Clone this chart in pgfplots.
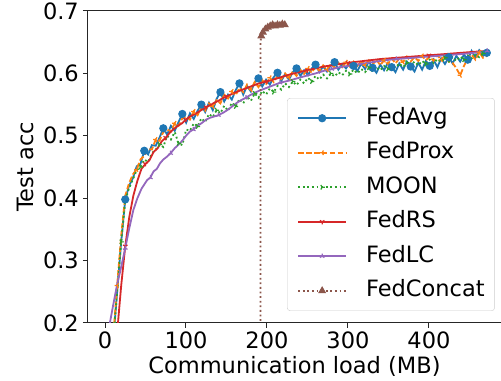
\documentclass[border=0pt]{standalone}
\usepackage{fontspec}
\setmainfont{DejaVu Sans}
\usepackage{pgfplots}
\pgfplotsset{compat=1.18}
\usetikzlibrary{calc,plotmarks}
\definecolor{c0}{HTML}{1F77B4}
\definecolor{c1}{HTML}{FF7F0E}
\definecolor{c2}{HTML}{2CA02C}
\definecolor{c3}{HTML}{D62728}
\definecolor{c4}{HTML}{9467BD}
\definecolor{c5}{HTML}{8C564B}
\newcommand{\bigf}{\fontsize{22.5bp}{27bp}\selectfont}
\begin{document}
\bigf
\begin{tikzpicture}
\begin{axis}[
  name=ax,
  scale only axis, width=413bp, height=312bp,
  xmin=-21, xmax=489, ymin=0.2, ymax=0.7,
  axis x line*=box, axis y line*=left,
  xtick={0,100,200,300,400}, ytick={0.2,0.3,0.4,0.5,0.6,0.7},
  xtick pos=bottom, ytick pos=left,
  tick align=outside, major tick length=5bp,
  tick style={black!85, line width=1bp},
  axis line style={black!85, line width=1bp},
  /pgf/number format/assume math mode=true,
  ticklabel style={font=\bigf},
  yticklabel style={/pgf/number format/fixed,/pgf/number format/precision=1,/pgf/number format/fixed zerofill, anchor=east, inner sep=0pt, xshift=-4bp},
  xticklabel style={anchor=north, inner sep=0pt, yshift=-4bp},
  every axis x label/.style={at={(axis description cs:0.5,-0.1603)}, anchor=base, font=\bigf},
  every axis y label/.style={at={(axis description cs:-0.1308,0.5)}, anchor=base, rotate=90, font=\bigf},
  xlabel={Communication load (MB)}, ylabel={Test acc},
  legend cell align=left,
  legend image code/.code={\draw[mark repeat=2,mark phase=2,#1] plot coordinates {(0bp,0bp) (24bp,0bp) (48bp,0bp)};},
  legend image post style={line width=1.8bp},
  legend style={at={(0.985,0.721)}, anchor=north east, draw=black!20, rounded corners=3bp, fill=white, font=\bigf,
     inner xsep=10bp, inner ysep=9bp, row sep=12.5bp, column sep=19bp,
     nodes={inner sep=0bp, text height=17bp, text depth=5bp}},
  every axis plot/.append style={line width=1.8bp},
]
% FedAvg
\addplot[c0, mark=*, mark size=3.6bp, mark repeat=5, mark phase=3, mark options={solid, fill=c0, draw=c0, line width=1bp}] coordinates {
(10,0.17)(15,0.25)(20,0.33)
(25.0,0.398)(29.7,0.420)(34.4,0.432)(39.1,0.451)(43.8,0.455)(48.5,0.476)(53.2,0.470)(57.9,0.485)(62.6,0.484)(67.3,0.497)
(72.0,0.512)(76.7,0.502)(81.4,0.516)(86.1,0.508)(90.8,0.522)(95.5,0.535)(100.2,0.521)(104.9,0.536)(109.6,0.527)(114.3,0.540)
(119.0,0.550)(123.7,0.538)(128.4,0.553)(133.1,0.541)(137.8,0.559)(142.5,0.570)(147.2,0.555)(151.9,0.566)(156.6,0.558)(161.3,0.573)
(166.0,0.584)(170.7,0.566)(175.4,0.580)(180.1,0.571)(184.8,0.585)(189.5,0.592)(194.2,0.579)(198.9,0.590)(203.6,0.582)(208.3,0.594)
(213.0,0.601)(217.7,0.588)(222.4,0.599)(227.1,0.590)(231.8,0.602)(236.5,0.608)(241.2,0.596)(245.9,0.605)(250.6,0.597)(255.3,0.608)
(260.0,0.614)(264.7,0.602)(269.4,0.611)(274.1,0.603)(278.8,0.613)(283.5,0.618)(288.2,0.606)(292.9,0.615)(297.6,0.608)(302.3,0.617)
(307.0,0.612)(311.7,0.604)(316.4,0.616)(321.1,0.607)(325.8,0.619)(330.5,0.609)(335.2,0.601)(339.9,0.614)(344.6,0.605)(349.3,0.617)
(354.0,0.610)(358.7,0.602)(363.4,0.616)(368.1,0.606)(372.8,0.619)(377.5,0.611)(382.2,0.603)(386.9,0.617)(391.6,0.606)(396.3,0.620)
(401.0,0.612)(405.7,0.622)(410.4,0.610)(415.1,0.624)(419.8,0.615)(424.5,0.626)(429.2,0.616)(433.9,0.628)(438.6,0.619)(443.3,0.630)
(448.0,0.622)(452.7,0.636)(457.4,0.625)(462.1,0.637)(466.8,0.628)(471.5,0.633)
};
\addlegendentry{FedAvg}
% FedProx
\addplot[c1, dash pattern=on 5.5bp off 2.4bp, mark=Mercedes star, mark size=2.6bp, mark repeat=5, mark phase=1, mark options={solid, rotate=90, line width=1.2bp}] coordinates {
(10,0.175)(15,0.26)(20,0.34)
(25.0,0.404)(29.7,0.424)(34.4,0.438)(39.1,0.446)(43.8,0.462)(48.5,0.468)(53.2,0.479)(57.9,0.478)(62.6,0.494)(67.3,0.492)
(72.0,0.506)(76.7,0.510)(81.4,0.507)(86.1,0.520)(90.8,0.516)(95.5,0.528)(100.2,0.531)(104.9,0.526)(109.6,0.539)(114.3,0.533)
(119.0,0.546)(123.7,0.540)(128.4,0.552)(133.1,0.547)(137.8,0.557)(142.5,0.552)(147.2,0.566)(151.9,0.560)(156.6,0.571)(161.3,0.565)
(166.0,0.577)(170.7,0.570)(175.4,0.582)(180.1,0.574)(184.8,0.586)(189.5,0.578)(194.2,0.589)(198.9,0.583)(203.6,0.593)(208.3,0.586)
(213.0,0.596)(217.7,0.591)(222.4,0.600)(227.1,0.593)(231.8,0.603)(236.5,0.596)(241.2,0.606)(245.9,0.599)(250.6,0.608)(255.3,0.601)
(260.0,0.611)(264.7,0.604)(269.4,0.613)(274.1,0.606)(278.8,0.615)(283.5,0.609)(288.2,0.617)(292.9,0.610)(297.6,0.618)(302.3,0.611)
(307.0,0.619)(311.7,0.612)(316.4,0.620)(321.1,0.613)(325.8,0.621)(330.5,0.614)(335.2,0.622)(339.9,0.613)(344.6,0.621)(349.3,0.615)
(354.0,0.624)(358.7,0.616)(363.4,0.624)(368.1,0.618)(372.8,0.627)(377.5,0.619)(382.2,0.626)(386.9,0.620)(391.6,0.628)(396.3,0.621)
(401.0,0.627)(405.7,0.620)(410.4,0.629)(415.1,0.622)(419.8,0.628)(424.5,0.619)(429.2,0.617)(433.9,0.608)(438.6,0.597)(443.3,0.612)
(448.0,0.624)(452.7,0.630)(457.4,0.622)(462.1,0.634)(466.8,0.625)(471.5,0.628)
};
\addlegendentry{FedProx}
% MOON
\addplot[c2, dash pattern=on 1.8bp off 2.8bp, mark=Mercedes star, mark size=2.6bp, mark repeat=5, mark phase=2, mark options={solid, rotate=-90, line width=1.2bp}] coordinates {
(10,0.17)(15,0.25)(20,0.33)
(25.0,0.396)(29.7,0.416)(34.4,0.430)(39.1,0.445)(43.8,0.450)(48.5,0.462)(53.2,0.458)(57.9,0.472)(62.6,0.478)(67.3,0.486)
(72.0,0.482)(76.7,0.500)(81.4,0.494)(86.1,0.506)(90.8,0.488)(95.5,0.485)(100.2,0.510)(104.9,0.508)(109.6,0.520)(114.3,0.515)
(119.0,0.528)(123.7,0.522)(128.4,0.535)(133.1,0.530)(137.8,0.541)(142.5,0.536)(147.2,0.548)(151.9,0.540)(156.6,0.553)(161.3,0.547)
(166.0,0.559)(170.7,0.552)(175.4,0.563)(180.1,0.556)(184.8,0.568)(189.5,0.561)(194.2,0.572)(198.9,0.566)(203.6,0.576)(208.3,0.570)
(213.0,0.580)(217.7,0.574)(222.4,0.584)(227.1,0.578)(231.8,0.587)(236.5,0.581)(241.2,0.590)(245.9,0.584)(250.6,0.593)(255.3,0.587)
(260.0,0.596)(264.7,0.590)(269.4,0.598)(274.1,0.592)(278.8,0.600)(283.5,0.595)(288.2,0.602)(292.9,0.597)(297.6,0.604)(302.3,0.599)
(307.0,0.606)(311.7,0.600)(316.4,0.607)(321.1,0.602)(325.8,0.609)(330.5,0.603)(335.2,0.610)(339.9,0.605)(344.6,0.612)(349.3,0.607)
(354.0,0.614)(358.7,0.609)(363.4,0.616)(368.1,0.610)(372.8,0.617)(377.5,0.612)(382.2,0.619)(386.9,0.613)(391.6,0.620)(396.3,0.615)
(401.0,0.622)(405.7,0.616)(410.4,0.623)(415.1,0.618)(419.8,0.625)(424.5,0.619)(429.2,0.626)(433.9,0.620)(438.6,0.627)(443.3,0.622)
(448.0,0.629)(452.7,0.624)(457.4,0.630)(462.1,0.626)(466.8,0.632)(471.5,0.630)
};
\addlegendentry{MOON}
% FedRS
\addplot[c3, mark=Mercedes star flipped, mark size=2.6bp, mark repeat=5, mark phase=3, mark options={solid, line width=1.2bp}] coordinates {
(14,0.17)(16,0.2)(20,0.26)(25,0.323)(30,0.370)(35,0.404)(40,0.428)(45,0.447)(50,0.455)(55,0.461)(60,0.474)(65,0.480)
(70,0.491)(75,0.497)(80,0.505)(85,0.511)(90,0.516)(95,0.520)(100,0.526)(105,0.531)(110,0.534)(115,0.538)(120,0.542)(125,0.546)
(130,0.549)(135,0.553)(140,0.556)(145,0.560)(150,0.563)(160,0.569)(170,0.574)(180,0.579)(190,0.584)(200,0.587)(210,0.591)
(220,0.595)(230,0.599)(240,0.602)(250,0.605)(260,0.608)(270,0.611)(280,0.613)(290,0.615)(300,0.617)(320,0.620)(340,0.623)
(360,0.625)(380,0.627)(400,0.629)(420,0.631)(440,0.633)(460,0.635)(472,0.636)
};
\addlegendentry{FedRS}
% FedLC
\addplot[c4, mark=Mercedes star, mark size=2.6bp, mark repeat=6, mark phase=5, mark options={solid, line width=1.2bp}] coordinates {
(3,0.17)(6,0.2)(10,0.228)(15,0.262)(20,0.29)(25,0.32)(30,0.352)(35,0.381)(40,0.400)(45,0.415)(52,0.429)(56,0.433)(60,0.443)
(64,0.447)(68,0.456)(72,0.462)(76,0.466)(81,0.472)(86,0.480)(91,0.486)(96,0.493)(100,0.500)(105,0.507)(109,0.510)(113,0.515)
(119,0.520)(125,0.526)(130,0.529)(135,0.531)(140,0.533)(146,0.537)(152,0.542)(158,0.548)(163,0.553)(168,0.557)(174,0.561)
(179,0.565)(185,0.569)(190,0.572)(200,0.577)(208,0.581)(216,0.585)(226,0.588)(237,0.592)(248,0.596)(260,0.600)(270,0.604)
(280,0.607)(290,0.610)(300,0.612)(315,0.615)(330,0.618)(345,0.621)(360,0.623)(380,0.625)(400,0.627)(420,0.629)(440,0.631)
(456,0.633)(472,0.636)
};
\addlegendentry{FedLC}
% FedConcat
\addplot[c5, dash pattern=on 1.8bp off 2.8bp, mark=triangle*, mark size=3.6bp, mark repeat=1, mark phase=2, mark options={solid, fill=c5, draw=c5, line width=1bp}] coordinates {
(192,0.1)(192,0.65)(193,0.66)(195,0.666)(198,0.671)(201,0.674)(204,0.676)(207,0.678)(210,0.676)(213,0.678)(216,0.677)(219,0.679)(222,0.678)
};
\addlegendentry{FedConcat}
\end{axis}
\pgfresetboundingbox
\path[use as bounding box] ($(ax.south west)+(-88bp,-58bp)$) rectangle ($(ax.north east)+(0bp,11bp)$);
\end{tikzpicture}
\end{document}
